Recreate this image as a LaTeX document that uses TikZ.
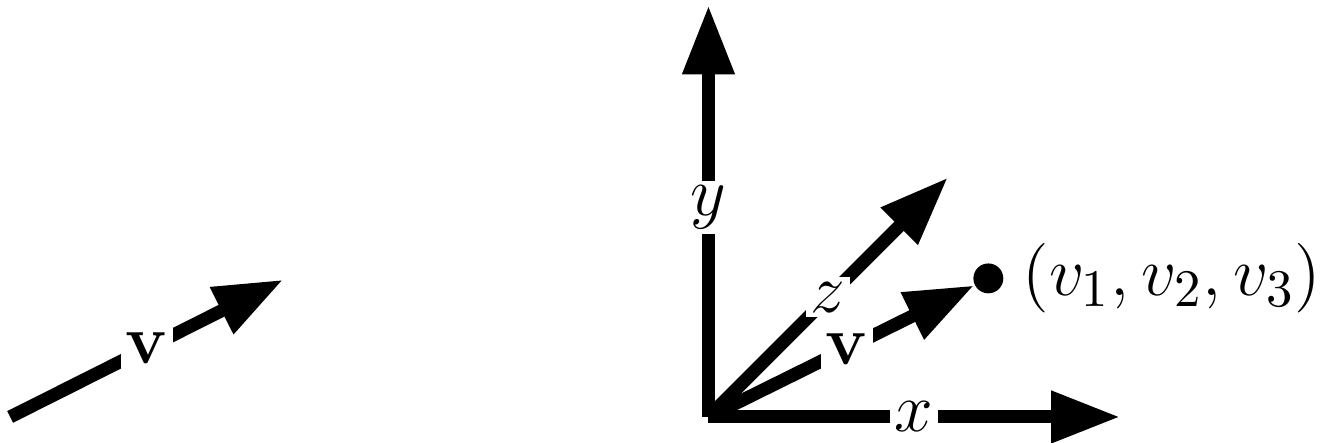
\documentclass[tikz,border=0pt]{standalone}
\usetikzlibrary{arrows.meta}
\begin{document}
\begin{tikzpicture}[x=1cm,y=1cm,
  vec/.style={line width=2.7pt, line cap=butt, -{Triangle[length=14.3pt,width=10.2pt]}},
  lbl/.style={fill=white, inner sep=1pt, font=\fontsize{14.8}{18}\selectfont},
  dotnode/.style={circle, fill=black, inner sep=0pt, minimum size=6.2pt}]
\useasboundingbox (-5.164,-0.1895) rectangle (4.501,3.039);
\coordinate (O) at (0,0);
\coordinate (X) at (3,0);
\coordinate (Y) at (0,3);
\coordinate (Z) at (1.745,1.745);
\coordinate (A) at (-5.09,0);
\coordinate (B) at (-3.10,1.0);
\node[dotnode] (P) at (2.04,1.01) {};
\node[anchor=west, font=\fontsize{15.3}{18}\selectfont, inner sep=3.6pt] (PL) at (P.east) {$(v_1,v_2,v_3)$};
\draw[vec] (A) -- node[lbl] (lv) {$\mathbf{v}$} (B);
\draw[vec] (O) -- node[lbl] (lx) {$x$} (X);
\draw[vec] (O) -- node[lbl, pos=0.51] (ly) {$y$} (Y);
\draw[vec] (O) -- node[lbl] (lz) {$z$} (Z);
\draw[vec] (O) -- node[lbl, pos=0.52] (lrv) {$\mathbf{v}$} (P);
\end{tikzpicture}
\end{document}
